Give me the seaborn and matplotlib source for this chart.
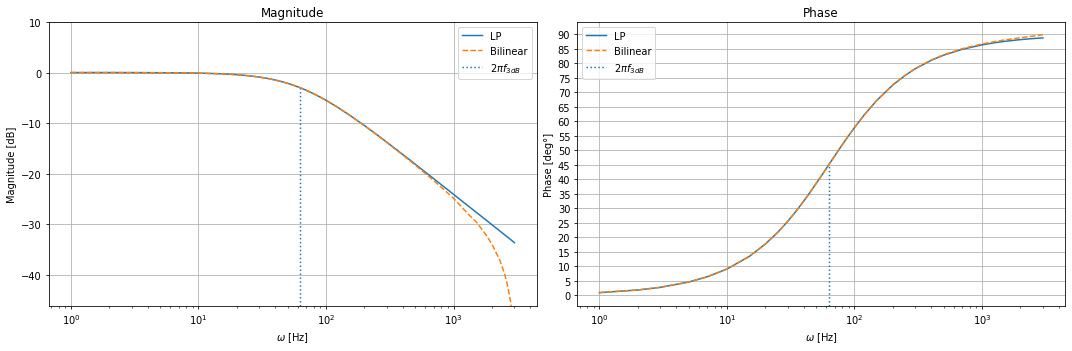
import numpy as np
import pandas as pd
import seaborn as sns
import matplotlib.pyplot as plt

# Data
omega = [1, 2, 3, 5, 7, 10, 15, 20, 25, 30, 35, 40, 45, 50, 55, 63, 70, 80, 90, 100,
         120, 150, 200, 250, 300, 400, 500, 700, 1000, 1300, 1500, 1800, 2000, 2300,
         2500, 2600, 2700, 2800, 2900, 2950, 3000]
mag_lp = [0.0, 0.0, -0.01, -0.03, -0.05, -0.11, -0.24, -0.42, -0.64, -0.89, -1.17,
          -1.48, -1.80, -2.13, -2.47, -3.02, -3.51, -4.19, -4.85, -5.49, -6.67,
          -8.27, -10.47, -12.26, -13.77, -16.19, -18.09, -20.98, -24.06, -26.34,
          -27.57, -29.14, -30.06, -31.27, -32.0, -32.34, -32.67, -32.98, -33.29,
          -33.44, -33.59]
mag_bl = [0.0, 0.0, -0.01, -0.03, -0.05, -0.11, -0.24, -0.42, -0.64, -0.89, -1.17,
          -1.48, -1.80, -2.13, -2.47, -3.02, -3.51, -4.19, -4.85, -5.49, -6.68,
          -8.28, -10.50, -12.30, -13.83, -16.30, -18.27, -21.34, -24.83, -27.95,
          -29.45, -32.09, -33.91, -37.05, -39.63, -41.19, -43.17, -45.33, -48.20,
          -50.40, -53.05]
phase_lp = [0.91, 1.82, 2.73, 4.55, 6.36, 9.05, 13.43, 17.66, 21.70, 25.53, 29.12,
            32.49, 35.61, 38.53, 41.20, 45.1, 48.09, 51.87, 55.08, 57.87, 62.37,
            67.28, 72.57, 75.89, 78.18, 81.08, 82.84, 84.87, 86.41, 87.23, 87.60,
            88.0, 88.20, 88.44, 88.56, 88.62, 88.67, 88.72, 88.76, 88.78, 88.80]
phase_bl = [0.91, 1.82, 2.73, 4.55, 6.36, 9.05, 13.43, 17.66, 21.70, 25.53, 29.12,
            32.49, 35.61, 38.53, 41.20, 45.1, 48.09, 51.87, 55.08, 57.9, 62.39,
            67.3, 72.63, 75.96, 78.26, 81.2, 82.99, 85.08, 86.71, 87.66, 88.07,
            88.57, 88.85, 89.21, 89.40, 89.50, 89.58, 89.69, 89.78, 89.83, 89.87]
w3db = 62.83
mag_3db = -3.01
phase_3db = 45.0

df = pd.DataFrame({'omega': omega, 'mag_lp': mag_lp, 'mag_bl': mag_bl,
                   'phase_lp': phase_lp, 'phase_bl': phase_bl})

fig, axes = plt.subplots(1, 2, figsize=(15, 4.925), dpi=71.47)

# Magnitude
ax = axes[0]
sns.lineplot(data=df, x='omega', y='mag_lp', ax=ax, color='C0', label='LP')
sns.lineplot(data=df, x='omega', y='mag_bl', ax=ax, color='C1', linestyle='--', label='Bilinear')
ax.set_xscale('log')
ax.set_ylim(-46, 10)
ax.vlines(w3db, -46, mag_3db, color='C0', linestyle=':', label=r'$2\pi f_{3dB}$')
ax.set_title('Magnitude')
ax.set_xlabel(r'$\omega$ [Hz]')
ax.set_ylabel('Magnitude [dB]')
ax.grid(True)
ax.legend(loc='upper right')

# Phase
ax = axes[1]
sns.lineplot(data=df, x='omega', y='phase_lp', ax=ax, color='C0', label='LP')
sns.lineplot(data=df, x='omega', y='phase_bl', ax=ax, color='C1', linestyle='--', label='Bilinear')
ax.set_xscale('log')
ylo, yhi = ax.get_ylim()
ax.vlines(w3db, ylo, phase_3db, color='C0', linestyle=':', label=r'$2\pi f_{3dB}$')
ax.set_ylim(ylo, yhi)
ax.set_yticks(np.arange(0, 91, 5))
ax.set_title('Phase')
ax.set_xlabel(r'$\omega$ [Hz]')
ax.set_ylabel('Phase [deg°]')
ax.grid(True)
ax.legend(loc='upper left')

plt.tight_layout(pad=0.7)
plt.savefig('out.png')
